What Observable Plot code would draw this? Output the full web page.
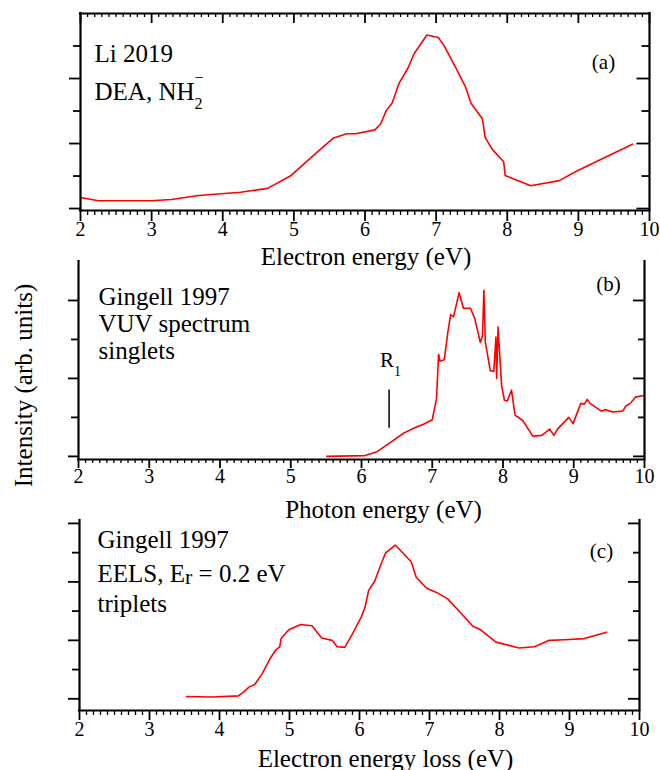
<!DOCTYPE html>
<html>
<head>
<meta charset="utf-8">
<script src="https://cdn.jsdelivr.net/npm/d3@7"></script>
<script src="https://cdn.jsdelivr.net/npm/@observablehq/plot@0.6"></script>
<style>
  html, body { margin: 0; padding: 0; background: #ffffff; }
  #chart { position: relative; width: 660px; height: 770px; overflow: hidden; background: #ffffff; }
  #chart svg { position: absolute; left: 0; overflow: visible; background: transparent; }
</style>
</head>
<body>
<div id="chart"></div>
<script>
// ---------- tick labels / ticks ----------
const xMajorTicks = [2, 3, 4, 5, 6, 7, 8, 9, 10];
const xMinorTicks = d3.range(20, 101).filter(d => d % 10 !== 0).map(d => d / 10);

// ---------- (a) Li 2019, DEA NH2- ----------
const liEnergy = [2.0, 2.25, 3.0, 3.28, 3.66, 4.25, 4.63, 4.95, 5.30, 5.55, 5.74, 5.87, 6.14, 6.22, 6.30, 6.38, 6.48, 6.60, 6.69, 6.87, 7.03, 7.11, 7.27, 7.41, 7.49, 7.65, 7.69, 7.79, 7.95, 7.97, 8.33, 8.73, 9.00, 9.76];
const liIntensity = [0.17, 0.12, 0.12, 0.14, 0.20, 0.25, 0.31, 0.50, 0.84, 1.08, 1.15, 1.15, 1.21, 1.30, 1.51, 1.62, 1.93, 2.15, 2.38, 2.67, 2.63, 2.51, 2.18, 1.88, 1.62, 1.38, 1.09, 0.91, 0.72, 0.51, 0.35, 0.43, 0.59, 0.99];

// ---------- (b) Gingell 1997, VUV spectrum ----------
const vuvEnergy = [5.51, 6.05, 6.22, 6.38, 6.60, 6.76, 6.87, 7.00, 7.06, 7.09, 7.11, 7.17, 7.22, 7.26, 7.30, 7.38, 7.44, 7.54, 7.60, 7.68, 7.71, 7.73, 7.75, 7.82, 7.87, 7.90, 7.91, 7.93, 7.98, 8.02, 8.06, 8.12, 8.17, 8.28, 8.42, 8.55, 8.66, 8.72, 8.77, 8.93, 8.99, 9.10, 9.15, 9.19, 9.23, 9.39, 9.44, 9.55, 9.69, 9.74, 9.80, 9.87, 9.99];
const vuvIntensity = [0.00, 0.01, 0.06, 0.16, 0.30, 0.37, 0.41, 0.47, 0.74, 1.31, 1.22, 1.24, 1.59, 1.82, 1.79, 2.10, 1.90, 1.90, 1.77, 1.46, 1.55, 2.13, 1.47, 1.10, 1.09, 1.53, 1.00, 1.66, 0.91, 0.72, 0.71, 0.85, 0.53, 0.46, 0.26, 0.27, 0.35, 0.27, 0.35, 0.50, 0.42, 0.68, 0.67, 0.73, 0.68, 0.58, 0.60, 0.57, 0.58, 0.65, 0.68, 0.76, 0.78];
const r1Energy = 6.39;
const r1Span = [0.36, 0.85];
const r1LabelLevel = 1.15;

// ---------- (c) Gingell 1997, EELS ----------
const eelsEnergy = [3.53, 3.90, 4.27, 4.34, 4.42, 4.50, 4.61, 4.72, 4.80, 4.86, 4.88, 4.99, 5.16, 5.32, 5.46, 5.61, 5.68, 5.79, 5.90, 6.03, 6.08, 6.13, 6.22, 6.31, 6.37, 6.51, 6.60, 6.74, 6.81, 6.96, 7.10, 7.26, 7.46, 7.62, 7.73, 7.95, 8.28, 8.50, 8.71, 8.93, 9.21, 9.53];
const eelsIntensity = [0.04, 0.03, 0.05, 0.11, 0.20, 0.24, 0.43, 0.68, 0.83, 0.89, 1.03, 1.18, 1.27, 1.25, 1.04, 1.00, 0.89, 0.88, 1.11, 1.41, 1.57, 1.85, 2.02, 2.31, 2.49, 2.63, 2.52, 2.34, 2.08, 1.89, 1.82, 1.71, 1.45, 1.24, 1.18, 0.97, 0.87, 0.89, 1.00, 1.01, 1.03, 1.14];

const FONT = "'Liberation Serif', 'Times New Roman', serif";
const RED = "#ff0000";
const W = 660;
const X0 = 2, X1 = 10;

function panel(o) {
  const innerW = W - o.ml - o.mr;
  const innerH = o.height - o.mt - o.mb;
  const [y0, y1] = o.yDomain;
  const ux = (X1 - X0) / innerW;        // data units per pixel (x)
  const uy = (y1 - y0) / innerH;        // data units per pixel (y)
  const rows = o.energy.map((e, i) => ({e, v: o.intensity[i]}));
  const L = o.len;
  const k = {stroke: "black"};
  const marks = [];
  // curve
  marks.push(Plot.line(rows, {x: "e", y: "v", stroke: RED, strokeWidth: 1.6}));
  // tick labels
  marks.push(Plot.text(xMajorTicks, {x: d => d, text: d => String(d), frameAnchor: "bottom", textAnchor: "middle", dy: o.tickDy, lineAnchor: "bottom", fontSize: 20, fill: "black"}));
  // x label
  marks.push(Plot.text([o.xlabel], {text: d => d, frameAnchor: "bottom", textAnchor: "middle", dx: o.xlabelDx, dy: o.xlabelDy, lineAnchor: "bottom", fontSize: 25, fill: "black"}));
  // annotations
  o.notes.forEach(n => {
    marks.push(Plot.text([n.t], {text: d => d, frameAnchor: n.anchor || "top-left", textAnchor: n.ta || "start", dx: n.dx, dy: n.dy, lineAnchor: "bottom", fontSize: n.fs || 25, fill: "black"}));
  });
  if (o.extra) marks.push(...o.extra);
  // bottom ticks (outward)
  marks.push(Plot.ruleX(xMinorTicks, {x: d => d, y1: y0, y2: y0 - L.bMin * uy, ...k, strokeWidth: 1.3}));
  marks.push(Plot.ruleX(xMajorTicks, {x: d => d, y1: y0, y2: y0 - L.bMaj * uy, ...k, strokeWidth: 1.8}));
  // top ticks (inward)
  if (o.boxTop) {
    marks.push(Plot.ruleX(xMinorTicks, {x: d => d, y1: y1, y2: y1 - L.tMin * uy, ...k, strokeWidth: 1.3}));
    marks.push(Plot.ruleX(xMajorTicks, {x: d => d, y1: y1, y2: y1 - L.tMaj * uy, ...k, strokeWidth: 1.8}));
  }
  // left ticks (outward)
  marks.push(Plot.ruleY(o.yMinor, {y: d => d, x1: X0 - L.lMin * ux, x2: X0, ...k, strokeWidth: 1.8}));
  marks.push(Plot.ruleY(o.yMajor, {y: d => d, x1: X0 - L.lMaj * ux, x2: X0, ...k, strokeWidth: 1.8}));
  // right ticks (inward)
  marks.push(Plot.ruleY(o.yMinor, {y: d => d, x1: X1 - L.rMin * ux, x2: X1, ...k, strokeWidth: 1.8}));
  marks.push(Plot.ruleY(o.yMajor, {y: d => d, x1: X1 - L.rMaj * ux, x2: X1, ...k, strokeWidth: 1.8}));
  // axis lines
  marks.push(Plot.ruleX([X0, X1], {...k, strokeWidth: 2.2, strokeLinecap: "square"}));
  marks.push(Plot.ruleY([y0], {...k, strokeWidth: 2.2, strokeLinecap: "square"}));
  if (o.boxTop) marks.push(Plot.ruleY([y1], {...k, strokeWidth: 2.2, strokeLinecap: "square"}));

  const svg = Plot.plot({
    width: W,
    height: o.height,
    marginLeft: o.ml, marginRight: o.mr, marginTop: o.mt, marginBottom: o.mb,
    x: {domain: [X0, X1], axis: null},
    y: {domain: o.yDomain, axis: null},
    style: {fontFamily: FONT, color: "black", background: "transparent", overflow: "visible"},
    marks
  });
  svg.style.top = o.top + "px";
  return svg;
}

function richen(svg, plain, html) {
  svg.querySelectorAll("text").forEach(t => {
    if (t.textContent === plain) t.innerHTML = html;
  });
}

const chart = document.getElementById("chart");

// panel (a)
const svgA = panel({
  top: 0, height: 275, ml: 80, mr: 11, mt: 13, mb: 65,
  yDomain: [-0.03, 3.0], yMajor: [0, 1, 2], yMinor: [0.5, 1.5, 2.5],
  energy: liEnergy, intensity: liIntensity, boxTop: true,
  len: {bMaj: 11, bMin: 5, tMaj: 10, tMin: 4, lMaj: 11, lMin: 7, rMaj: 12.5, rMin: 7.5},
  tickDy: 25, xlabel: "Electron energy (eV)", xlabelDx: 1, xlabelDy: 54,
  notes: [
    {t: "Li 2019", dx: 14, dy: 48},
    {t: "DEA, NH2-", dx: 14, dy: 86},
    {t: "(a)", anchor: "top-right", ta: "middle", dx: -46, dy: 55, fs: 21}
  ]
});
richen(svgA, "DEA, NH2-", 'DEA, NH<tspan dy="9" font-size="16">2</tspan><tspan dx="-8" dy="-26" font-size="16">\u2212</tspan>');
chart.appendChild(svgA);

// panel (b)
const svgB = panel({
  top: 250, height: 275, ml: 78, mr: 16, mt: 11, mb: 66,
  yDomain: [-0.04, 2.5], yMajor: [0, 1, 2], yMinor: [0.5, 1.5],
  energy: vuvEnergy, intensity: vuvIntensity, boxTop: false,
  len: {bMaj: 9, bMin: 4, tMaj: 0, tMin: 0, lMaj: 10, lMin: 7, rMaj: 11, rMin: 6},
  tickDy: 23, xlabel: "Photon energy (eV)", xlabelDx: 22, xlabelDy: 58,
  notes: [
    {t: "Gingell 1997", dx: 20, dy: 43},
    {t: "VUV spectrum", dx: 20, dy: 70},
    {t: "singlets", dx: 20, dy: 97},
    {t: "(b)", anchor: "top-right", ta: "middle", dx: -36, dy: 29, fs: 21}
  ],
  extra: [
    Plot.ruleX([r1Energy], {y1: r1Span[0], y2: r1Span[1], stroke: "black", strokeWidth: 1.5}),
    Plot.text(["R1"], {x: r1Energy, y: r1LabelLevel, text: d => d, textAnchor: "start", lineAnchor: "bottom", dx: -9, fontSize: 21, fill: "black"}),
    Plot.text(["Intensity (arb. units)"], {text: d => d, frameAnchor: "left", textAnchor: "middle", rotate: -90, dx: -47, dy: 25, lineAnchor: "bottom", fontSize: 25, fill: "black"})
  ]
});
richen(svgB, "R1", 'R<tspan dy="9" font-size="14">1</tspan>');
chart.appendChild(svgB);

// panel (c)
const svgC = panel({
  top: 505, height: 265, ml: 79, mr: 21, mt: 15, mb: 60,
  yDomain: [-0.2, 3.05], yMajor: [0, 1, 2, 3], yMinor: [0.5, 1.5, 2.5],
  energy: eelsEnergy, intensity: eelsIntensity, boxTop: false,
  len: {bMaj: 10, bMin: 5, tMaj: 0, tMin: 0, lMaj: 11, lMin: 7, rMaj: 11, rMin: 6},
  tickDy: 25, xlabel: "Electron energy loss (eV)", xlabelDx: 26, xlabelDy: 56,
  notes: [
    {t: "Gingell 1997", dx: 18, dy: 27},
    {t: "EELS, Er = 0.2 eV", dx: 18, dy: 61},
    {t: "triplets", dx: 18, dy: 91},
    {t: "(c)", anchor: "top-right", ta: "middle", dx: -38, dy: 37, fs: 21}
  ]
});
richen(svgC, "EELS, Er = 0.2 eV", 'EELS, E<tspan dy="2" font-size="22">r</tspan><tspan dy="-2"> = 0.2 eV</tspan>');
chart.appendChild(svgC);
</script>
</body>
</html>
